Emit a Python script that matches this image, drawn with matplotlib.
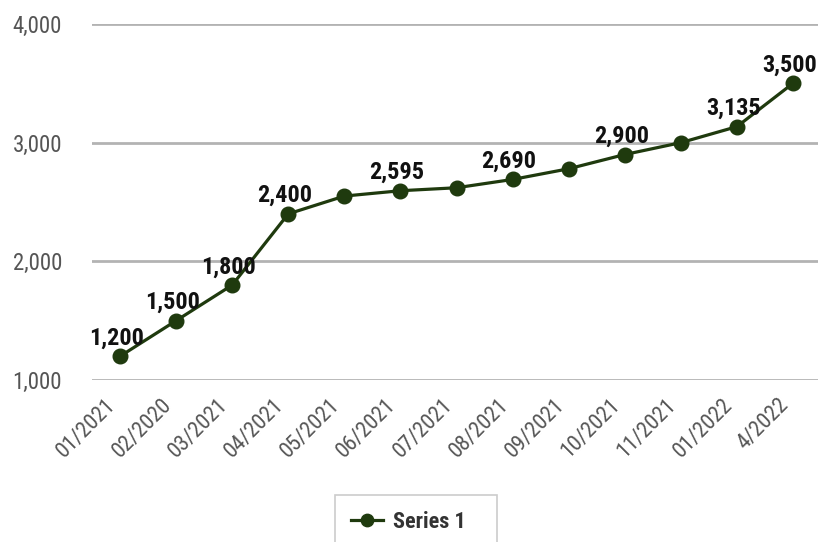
import matplotlib
matplotlib.use("Agg")
import matplotlib.pyplot as plt
from matplotlib import font_manager
from matplotlib.patches import Rectangle
from matplotlib.ticker import FuncFormatter

# Data
periods = ["01/2021", "02/2020", "03/2021", "04/2021", "05/2021", "06/2021", "07/2021",
           "08/2021", "09/2021", "10/2021", "11/2021", "01/2022", "4/2022"]
values = [1200, 1500, 1800, 2400, 2550, 2595, 2620, 2690, 2780, 2900, 3000, 3135, 3500]
labeled = [True, True, True, True, False, True, False, True, False, True, False, True, True]
y_ticks = [1000, 2000, 3000, 4000]
series_name = "Series 1"

# Pick a narrow sans family if one is installed
available = {f.name for f in font_manager.fontManager.ttflist}
family = "DejaVu Sans"
for cand in ["Roboto Condensed", "Liberation Sans Narrow", "Open Sans Condensed"]:
    if cand in available:
        family = cand
        break
plt.rcParams["font.family"] = [family, "DejaVu Sans"]

line_color = "#1f3a0e"
tick_color = "#555555"
grid_color = "#b3b3b3"

W, H = 818, 542
fig = plt.figure(figsize=(W / 100, H / 100), dpi=100)
left, right = 92, 821
top, bottom = 24, 380
ax = fig.add_axes([left / W, 1 - bottom / H, (right - left) / W, (bottom - top) / H])

x = list(range(len(periods)))
ax.plot(x, values, color=line_color, linewidth=2.3, marker="o", markersize=10.5,
        markerfacecolor=line_color, markeredgecolor=line_color, label=series_name,
        zorder=3, clip_on=False)

for xi, v, show in zip(x, values, labeled):
    if show:
        ax.annotate(f"{v:,}", (xi, v), xytext=(-2.5, 8.5), textcoords="offset points",
                    ha="center", va="baseline", fontsize=17.5, fontweight="bold",
                    color="#111111", zorder=4)

ax.set_xlim(-0.5, len(periods) - 0.5)
ax.set_ylim(1000, 4000)
ax.set_yticks(y_ticks)
ax.yaxis.set_major_formatter(FuncFormatter(lambda v, p: f"{int(v):,}"))
ax.set_xticks(x)
ax.set_xticklabels(periods, rotation=45, ha="right", rotation_mode="default")

ax.tick_params(axis="both", length=0, colors=tick_color)
ax.tick_params(axis="y", pad=21.5, labelsize=16.5)
ax.tick_params(axis="x", pad=10.5, labelsize=16)

ax.grid(axis="y", color=grid_color, linewidth=2)
ax.grid(axis="x", visible=False)
ax.set_axisbelow(True)
for s in ax.spines.values():
    s.set_visible(False)

# Legend box (runs past the lower edge of the canvas)
fig.patches.append(Rectangle((335 / W, 1 - 548 / H), 162 / W, 53 / H,
                             transform=fig.transFigure, facecolor="white",
                             edgecolor="#cccccc", linewidth=1.2))
leg = fig.legend(loc="upper left", bbox_to_anchor=(335 / W, 1 - 495 / H),
                 frameon=False, borderpad=0.7, borderaxespad=0,
                 handlelength=1.45, handletextpad=0.45, markerscale=0.85,
                 prop={"weight": "bold", "size": 16})
for t in leg.get_texts():
    t.set_color("#333333")

fig.savefig("out.png", dpi=100)
